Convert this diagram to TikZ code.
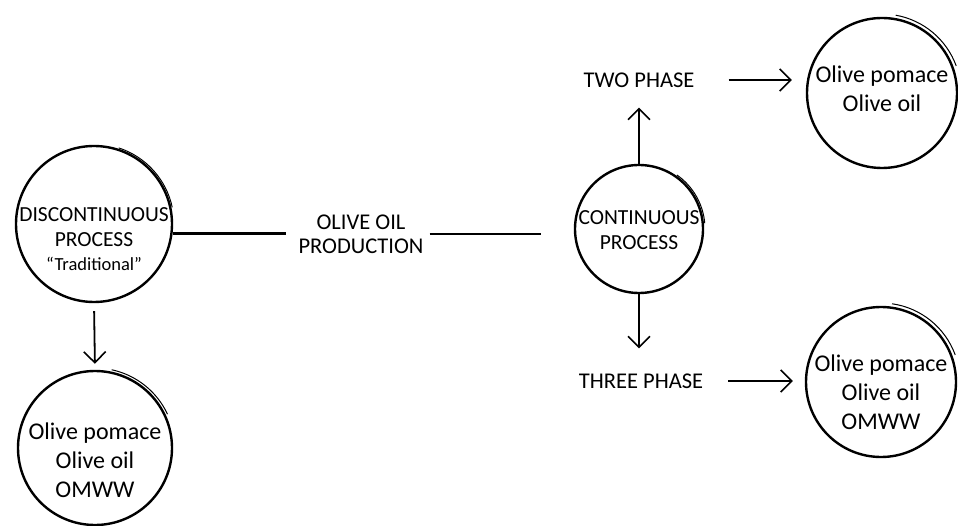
\documentclass[tikz,border=0pt]{standalone}
\usepackage{fontspec}
\setmainfont{Carlito}
\usetikzlibrary{arrows.meta}
\tikzset{
  bubble/.style={circle, draw, line width=2.4pt, inner sep=0pt},
  lbl/.style={align=center, inner sep=0pt, font=\fontsize{22.5}{24}\selectfont},
  intxt/.style={align=center, inner sep=0pt, font=\fontsize{21.5}{25}\selectfont},
  outtxt/.style={align=center, inner sep=0pt, font=\fontsize{24}{29}\selectfont},
  conn/.style={line width=2.4pt},
  arr/.style={line width=1.8pt, -{Straight Barb[length=11pt,width=22pt,line width=1.6pt]}},
  extra/.style={line width=1pt}
}
\begin{document}
\begin{tikzpicture}[x=1pt,y=-1pt]
\useasboundingbox (0,0) rectangle (958,526);
% circles
\node[bubble, minimum size=156pt] (disc) at (94,224) {};
\node[bubble, minimum size=154pt] (outL) at (95,448) {};
\node[bubble, minimum size=128pt] (cont) at (639,229) {};
\node[bubble, minimum size=150pt] (out2) at (882,93) {};
\node[bubble, minimum size=150pt] (out3) at (881,382) {};
% sketchy extra strokes
\draw[extra] (disc.center) ++(-12:80) arc (-12:-72:80);
\draw[extra] (outL.center) ++(-25:80) arc (-25:-78:80);
\draw[extra] (cont.center) ++(-5:66) arc (-5:-55:66);
\draw[extra] (out2.center) ++(-20:79) arc (-20:-80:79);
\draw[extra] (out3.center) ++(-20:79) arc (-20:-82:79);
% circle texts
\node[intxt] (discT) at (disc.center) [yshift=-15pt]
  {DISCONTINUOUS\\PROCESS\\[-1pt]{\fontsize{18.5}{22}\selectfont ``Traditional''}};
\node[outtxt] (outLT) at (outL.center) [yshift=-12pt] {Olive pomace\\Olive oil\\OMWW};
\node[intxt] (contT) at (cont.center) [yshift=-1pt] {CONTINUOUS\\PROCESS};
\node[outtxt] (out2T) at (out2.center) [yshift=4pt] {Olive pomace\\Olive oil};
\node[outtxt] (out3T) at (out3.center) [yshift=-10pt] {Olive pomace\\Olive oil\\OMWW};
% text nodes
\node[lbl] (prod) at (361,234) {OLIVE OIL\\PRODUCTION};
\node[lbl] (two) at (639,80) {TWO PHASE};
\node[lbl] (three) at (641,381) {THREE PHASE};
% connectors
\draw[conn, shorten >=12pt] (disc.-7.4) -- (disc.-7.4 -| prod.west);
\draw[conn, shorten <=6pt, shorten >=33pt] (prod.east) -- (prod.east -| cont.west);
\draw[arr, shorten <=8pt, shorten >=6pt] (disc.south) -- (outL.north);
\draw[arr, shorten >=20pt] (cont.north) -- (cont.north |- two.south);
\draw[arr, shorten >=25pt] (cont.south) -- (cont.south |- three.north);
\draw[arr, shorten <=34pt, shorten >=14pt] (two.east) -- (two.east -| out2.west);
\draw[arr, shorten <=25pt, shorten >=12pt] (three.east) -- (three.east -| out3.west);
\end{tikzpicture}
\end{document}
